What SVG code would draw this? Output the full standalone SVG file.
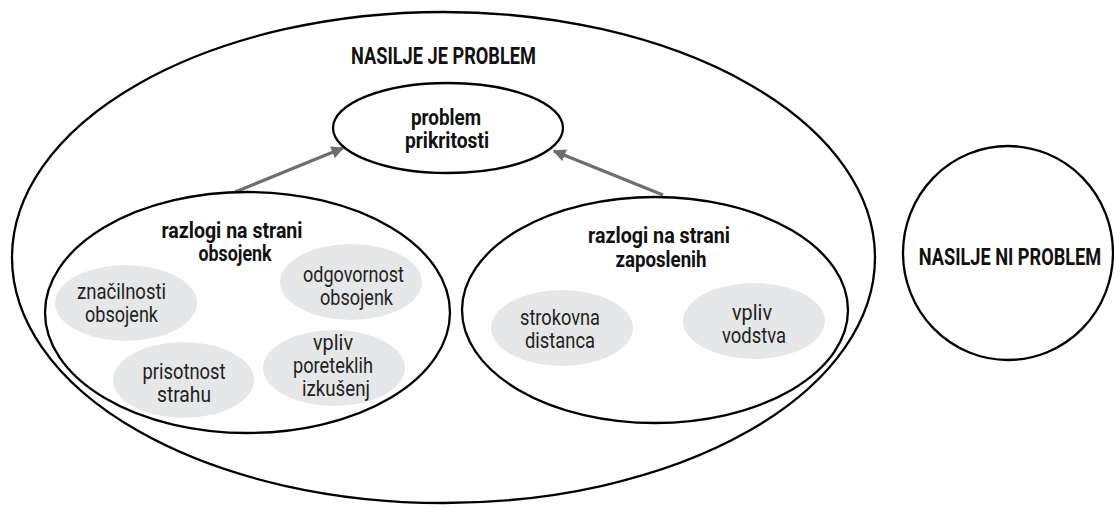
<svg xmlns="http://www.w3.org/2000/svg" width="1114" height="507" viewBox="0 0 1114 507">
<style>
.ring{fill:none;stroke:#000;stroke-width:2.3}
.node{fill:#fff;stroke:#000;stroke-width:2.3}
.sub{fill:#e6e7e8;stroke:none}
.t{font-family:Roboto,"Liberation Sans",sans-serif;fill:#111;text-anchor:middle}
.b{font-weight:bold;font-size:22px}
.h{font-weight:bold;font-size:23px}
.r{font-size:22px;fill:#231f20}
.arrow{stroke:#6d6e71;stroke-width:3.2;fill:none}
</style>
<defs>
<marker id="ah" viewBox="0 0 10 10" refX="9" refY="5" markerWidth="4" markerHeight="4" orient="auto" markerUnits="strokeWidth">
<path d="M0,0 L10,5 L0,10 Z" fill="#6d6e71"/>
</marker>
</defs>
<rect width="1114" height="507" fill="#fff"/>
<g id="nasilje-je-problem">
<ellipse class="ring" cx="443.5" cy="257.5" rx="431.5" ry="245.5"/>
<text class="t h" x="443.5" y="64" textLength="185" lengthAdjust="spacingAndGlyphs">NASILJE JE PROBLEM</text>
</g>
<g id="connectors">
<line class="arrow" x1="235" y1="192" x2="343" y2="148" marker-end="url(#ah)"/>
<line class="arrow" x1="663" y1="195" x2="554" y2="151" marker-end="url(#ah)"/>
</g>
<g id="problem-prikritosti">
<ellipse class="node" cx="448" cy="128" rx="115" ry="45"/>
<text class="t b" x="446" y="125" textLength="70" lengthAdjust="spacingAndGlyphs">problem</text>
<text class="t b" x="447" y="148" textLength="84" lengthAdjust="spacingAndGlyphs">prikritosti</text>
</g>
<g id="razlogi-obsojenk">
<ellipse class="ring" cx="247.5" cy="312.5" rx="202.5" ry="120.5"/>
<text class="t b" x="232" y="238" textLength="141" lengthAdjust="spacingAndGlyphs">razlogi na strani</text>
<text class="t b" x="235" y="261" textLength="73" lengthAdjust="spacingAndGlyphs">obsojenk</text>
</g>
<g id="znacilnosti-obsojenk">
<ellipse class="sub" cx="126" cy="303" rx="71" ry="38"/>
<text class="t r" x="121.5" y="299" textLength="89" lengthAdjust="spacingAndGlyphs">značilnosti</text>
<text class="t r" x="121.5" y="322" textLength="73" lengthAdjust="spacingAndGlyphs">obsojenk</text>
</g>
<g id="odgovornost-obsojenk">
<ellipse class="sub" cx="351" cy="282" rx="71" ry="38"/>
<text class="t r" x="353.5" y="282" textLength="101" lengthAdjust="spacingAndGlyphs">odgovornost</text>
<text class="t r" x="356.5" y="305" textLength="73" lengthAdjust="spacingAndGlyphs">obsojenk</text>
</g>
<g id="prisotnost-strahu">
<ellipse class="sub" cx="183.5" cy="380" rx="70.5" ry="38"/>
<text class="t r" x="184" y="379" textLength="83" lengthAdjust="spacingAndGlyphs">prisotnost</text>
<text class="t r" x="184" y="402" textLength="54" lengthAdjust="spacingAndGlyphs">strahu</text>
</g>
<g id="vpliv-poreteklih-izkusenj">
<ellipse class="sub" cx="334" cy="368" rx="71" ry="38"/>
<text class="t r" x="333" y="350" textLength="40" lengthAdjust="spacingAndGlyphs">vpliv</text>
<text class="t r" x="333" y="373" textLength="80" lengthAdjust="spacingAndGlyphs">poreteklih</text>
<text class="t r" x="336" y="396" textLength="68" lengthAdjust="spacingAndGlyphs">izkušenj</text>
</g>
<g id="razlogi-zaposlenih">
<ellipse class="ring" cx="655" cy="310" rx="193" ry="113"/>
<text class="t b" x="659" y="243" textLength="142" lengthAdjust="spacingAndGlyphs">razlogi na strani</text>
<text class="t b" x="661" y="267" textLength="91" lengthAdjust="spacingAndGlyphs">zaposlenih</text>
</g>
<g id="strokovna-distanca">
<ellipse class="sub" cx="562" cy="328" rx="71" ry="38"/>
<text class="t r" x="560" y="325" textLength="80" lengthAdjust="spacingAndGlyphs">strokovna</text>
<text class="t r" x="560" y="348" textLength="70" lengthAdjust="spacingAndGlyphs">distanca</text>
</g>
<g id="vpliv-vodstva">
<ellipse class="sub" cx="754" cy="321" rx="71" ry="38"/>
<text class="t r" x="752" y="320" textLength="40" lengthAdjust="spacingAndGlyphs">vpliv</text>
<text class="t r" x="754" y="343" textLength="64" lengthAdjust="spacingAndGlyphs">vodstva</text>
</g>
<g id="nasilje-ni-problem">
<ellipse class="ring" cx="1008" cy="253" rx="105" ry="107"/>
<text class="t h" transform="translate(1010,265) scale(0.79,1)" x="0" y="0">NASILJE NI PROBLEM</text>
</g>
</svg>
